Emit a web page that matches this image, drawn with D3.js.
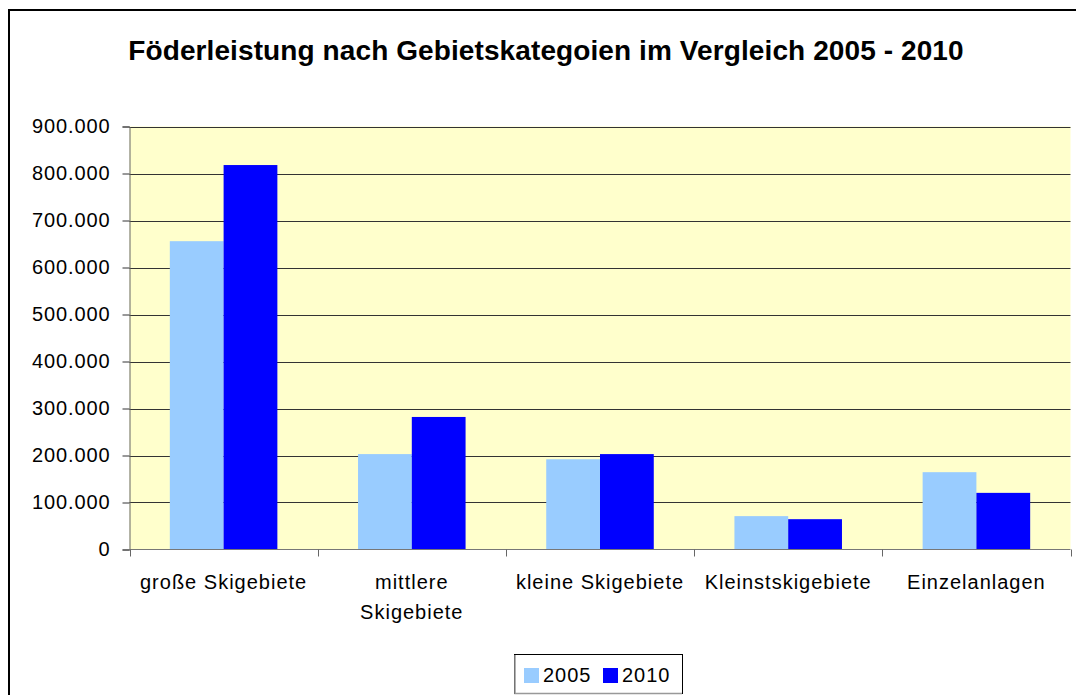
<!DOCTYPE html>
<html>
<head>
<meta charset="utf-8">
<script src="https://cdn.jsdelivr.net/npm/d3@7"></script>
<style>
    body { margin: 0; background: #ffffff; }
    svg { display: block; font-family: "Liberation Sans", Arial, sans-serif; }
</style>
</head>
<body>
<div class="chart"></div>
<script>
const categories = ['große Skigebiete', 'mittlere Skigebiete', 'kleine Skigebiete', 'Kleinstskigebiete', 'Einzelanlagen'];
const seriesNames = ['2005', '2010'];
const values2005 = [656000, 203000, 192000, 71000, 164500];
const values2010 = [818000, 282000, 203000, 64500, 120500];
const yTicks = [0, 100000, 200000, 300000, 400000, 500000, 600000, 700000, 800000, 900000];
const title = 'Föderleistung nach Gebietskategoien im Vergleich 2005 - 2010';

const colors = { '2005': '#99ccff', '2010': '#0000ff' };

const width = 1076;
const height = 695;
const plot = { left: 129.5, right: 1070.5, top: 126.5, bottom: 549.5 };

const deFormat = d3.formatLocale({ decimal: ',', thousands: '.', grouping: [3], currency: ['', '€'] }).format(',d');

const rows = categories.map((c, i) => ({ category: c, '2005': values2005[i], '2010': values2010[i] }));

const svg = d3.select('.chart').append('svg')
    .attr('width', width)
    .attr('height', height);

// outer chart frame (runs off the right and bottom of the picture)
svg.append('rect')
    .attr('x', 9).attr('y', 10)
    .attr('width', 1100).attr('height', 800)
    .attr('fill', '#ffffff')
    .attr('stroke', '#000000')
    .attr('stroke-width', 2);

svg.append('text')
    .attr('x', 546)
    .attr('y', 60)
    .attr('text-anchor', 'middle')
    .attr('font-size', 28)
    .attr('font-weight', 'bold')
    .attr('letter-spacing', '0.1px')
    .attr('fill', '#000')
    .text(title);

const x = d3.scaleBand()
    .domain(categories)
    .range([plot.left, plot.right])
    .padding(0);

const xSub = d3.scaleBand()
    .domain(seriesNames)
    .range([0, x.bandwidth()])
    .paddingInner(0)
    .paddingOuter(0.75);

const y = d3.scaleLinear()
    .domain([0, 900000])
    .range([plot.bottom, plot.top]);

// plot area
svg.append('rect')
    .attr('x', plot.left).attr('y', plot.top)
    .attr('width', plot.right - plot.left)
    .attr('height', plot.bottom - plot.top)
    .attr('fill', '#ffffcc');

// gridlines
svg.append('g')
    .selectAll('line')
    .data(yTicks.filter(d => d > 0))
    .join('line')
    .attr('x1', plot.left).attr('x2', plot.right)
    .attr('y1', d => Math.round(y(d)) + 0.5)
    .attr('y2', d => Math.round(y(d)) + 0.5)
    .attr('stroke', '#333333')
    .attr('stroke-width', 1);

// bars
svg.append('g')
    .selectAll('g')
    .data(rows)
    .join('g')
    .attr('transform', d => `translate(${x(d.category)},0)`)
    .selectAll('rect')
    .data(d => seriesNames.map(s => ({ key: s, value: d[s] })))
    .join('rect')
    .attr('x', d => xSub(d.key))
    .attr('y', d => y(d.value))
    .attr('width', xSub.bandwidth())
    .attr('height', d => y(0) - y(d.value))
    .attr('fill', d => colors[d.key]);

// y axis
const yAxis = svg.append('g')
    .attr('transform', `translate(${plot.left},0)`)
    .call(d3.axisLeft(y).tickValues(yTicks).tickFormat(deFormat).tickSize(7).tickPadding(12));
yAxis.select('.domain').attr('stroke', '#666666');
yAxis.selectAll('.tick line').attr('stroke', '#333333');
yAxis.selectAll('.tick text')
    .attr('font-size', 20)
    .attr('letter-spacing', '0.9px')
    .attr('fill', '#000')
    .attr('font-family', '"Liberation Sans", Arial, sans-serif');

// x axis: baseline plus ticks at category boundaries
svg.append('line')
    .attr('x1', plot.left).attr('x2', plot.right)
    .attr('y1', plot.bottom).attr('y2', plot.bottom)
    .attr('stroke', '#777777');

const boundaries = categories.map(c => x(c)).concat([plot.right]);
svg.append('g')
    .selectAll('line')
    .data(boundaries)
    .join('line')
    .attr('x1', d => Math.round(d) + 0.5).attr('x2', d => Math.round(d) + 0.5)
    .attr('y1', plot.bottom).attr('y2', plot.bottom + 7)
    .attr('stroke', '#666666');

// category labels, wrapped when too wide for the band
const labels = svg.append('g')
    .selectAll('text')
    .data(categories)
    .join('text')
    .attr('x', d => x(d) + x.bandwidth() / 2)
    .attr('y', plot.bottom + 39.5)
    .attr('text-anchor', 'middle')
    .attr('font-size', 20)
    .attr('letter-spacing', '1px')
    .attr('fill', '#000')
    .text(d => d);

labels.each(function(d) {
    const t = d3.select(this);
    if (this.getComputedTextLength() > x.bandwidth() - 12) {
        const words = d.split(' ');
        t.text(null);
        words.forEach((w, i) => {
            t.append('tspan')
                .attr('x', x(d) + x.bandwidth() / 2)
                .attr('dy', i === 0 ? 0 : 30)
                .text(w);
        });
    }
});

// legend
const legend = svg.append('g');
legend.append('rect')
    .attr('x', 514.5).attr('y', 654.5)
    .attr('width', 168).attr('height', 39)
    .attr('fill', '#ffffff')
    .attr('stroke', '#000000')
    .attr('stroke-width', 1);
legend.append('path')
    .attr('d', 'M515,655V693.5H682')
    .attr('fill', 'none')
    .attr('stroke', '#999999')
    .attr('stroke-width', 1.5);

const legendX = [524, 603];
seriesNames.forEach((s, i) => {
    legend.append('rect')
        .attr('x', legendX[i]).attr('y', 668)
        .attr('width', 15).attr('height', 15)
        .attr('fill', colors[s]);
    legend.append('text')
        .attr('x', legendX[i] + 19)
        .attr('y', 682)
        .attr('font-size', 20)
        .attr('letter-spacing', '1px')
        .attr('fill', '#000')
        .text(s);
});
</script>
</body>
</html>
